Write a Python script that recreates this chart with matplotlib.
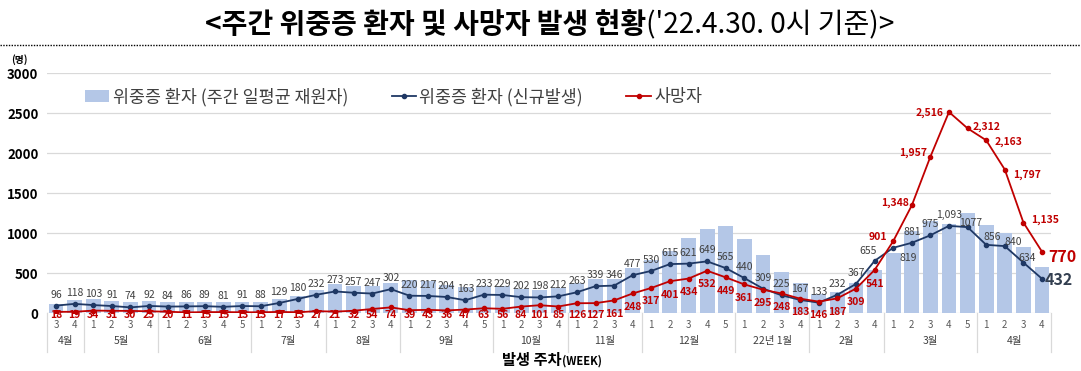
import numpy as np
import matplotlib.pyplot as plt
from matplotlib.lines import Line2D
from matplotlib.patches import Patch
from matplotlib.transforms import blended_transform_factory

plt.rcParams['font.family'] = ['Noto Sans CJK KR', 'DejaVu Sans']

# 주차 (2021.4월 3주 ~ 2022.4월 4주)
months = ['4월', '5월', '6월', '7월', '8월', '9월', '10월', '11월', '12월',
          '22년 1월', '2월', '3월', '4월']
month_counts = [2, 4, 5, 4, 4, 5, 4, 4, 5, 4, 4, 5, 4]
week_nums = [3, 4,
             1, 2, 3, 4,
             1, 2, 3, 4, 5,
             1, 2, 3, 4,
             1, 2, 3, 4,
             1, 2, 3, 4, 5,
             1, 2, 3, 4,
             1, 2, 3, 4,
             1, 2, 3, 4, 5,
             1, 2, 3, 4,
             1, 2, 3, 4,
             1, 2, 3, 4, 5,
             1, 2, 3, 4]

# 위중증 환자 (주간 일평균 재원자) - 그림에서 읽은 값
inpatients = [117, 170, 178, 158, 146, 152, 146, 146, 146, 144, 146,
              146, 183, 217, 292, 367, 340, 340, 375, 417, 408, 350,
              325, 342, 342, 300, 292, 312, 375, 430, 430, 565, 667,
              775, 940, 1054, 1092, 929, 729, 521, 375, 245, 262, 375,
              542, 758, 1030, 1150, 1120, 1250, 1104, 1008, 825, 575]

# 위중증 환자 (신규발생)
severe = [96, 118, 103, 91, 74, 92, 84, 86, 89, 81, 91, 88, 129, 180,
          232, 273, 257, 247, 302, 220, 217, 204, 163, 233, 229, 202,
          198, 212, 263, 339, 346, 477, 530, 615, 621, 649, 565, 440,
          309, 225, 167, 133, 232, 367, 655, 819, 881, 975, 1093, 1077,
          856, 840, 634, 432]

# 사망자
deaths = [18, 19, 34, 31, 30, 25, 20, 11, 15, 15, 13, 13, 17, 13, 27,
          21, 32, 54, 74, 39, 43, 36, 47, 63, 56, 84, 101, 85, 126, 127,
          161, 248, 317, 401, 434, 532, 449, 361, 295, 248, 183, 146, 187,
          309, 541, 901, 1348, 1957, 2516, 2312, 2163, 1797, 1135, 770]

BAR_C = '#B4C7E7'
BLUE_C = '#1F3864'
RED_C = '#C00000'
GRAY_T = '#404040'

W, H = 1081, 371
fig = plt.figure(figsize=(W / 100, H / 100), dpi=100)
fig.patch.set_facecolor('white')

ax_l, ax_r, ax_t, ax_b = 46.7, 1051.3, 73.3, 313.3
ax = fig.add_axes([ax_l / W, (H - ax_b) / H, (ax_r - ax_l) / W, (ax_b - ax_t) / H])

x = np.arange(len(severe))
ax.bar(x, inpatients, width=0.8, color=BAR_C, zorder=2)
ax.plot(x, severe, color=BLUE_C, lw=1.3, marker='o', ms=3, zorder=3)
ax.plot(x, deaths, color=RED_C, lw=1.3, marker='o', ms=3, zorder=4)

ax.set_xlim(-0.5, len(severe) - 0.5)
ax.set_ylim(0, 3000)
ax.set_yticks(range(0, 3001, 500))
ax.yaxis.grid(True, color='#D9D9D9', lw=0.9, zorder=0)
ax.set_axisbelow(True)
for s in ax.spines.values():
    s.set_visible(False)
ax.set_xticks([])
ax.tick_params(axis='y', length=0, pad=6)
for lab in ax.get_yticklabels():
    lab.set_fontweight('bold')
    lab.set_fontsize(9.5)

fig.text(19 / W, 1 - 60 / H, '(명)', fontsize=7, fontweight='bold', ha='center', va='center')

# 데이터 레이블
blue_off = {44: (-7, 10), 45: (15, -10), 49: (3, 4), 50: (6, 8), 51: (8, 4), 52: (4, 5)}
for i, v in enumerate(severe):
    lab = f'{v:,}' if v == 1093 else str(v)
    if i == len(severe) - 1:
        ax.annotate(lab, (i, v), xytext=(17, -1), textcoords='offset pixels',
                    ha='center', va='center', fontsize=11.5, fontweight='bold',
                    color='#333F50', annotation_clip=False)
        continue
    dx, dy = blue_off.get(i, (0, 11))
    ax.annotate(lab, (i, v), xytext=(dx, dy), textcoords='offset pixels',
                ha='center', va='center', fontsize=7.5, color=GRAY_T,
                annotation_clip=False, zorder=6)

red_off = {45: (-15, 4), 46: (-17, 3), 47: (-17, 4), 48: (-19, -1),
           49: (19, 1), 50: (22, -2), 51: (22, -5), 52: (22, 3)}
px_per_unit = (ax_b - ax_t) / 3000
for i, v in enumerate(deaths):
    lab = f'{v:,}'
    if i == len(deaths) - 1:
        ax.annotate(lab, (i, v), xytext=(20, -5), textcoords='offset pixels',
                    ha='center', va='center', fontsize=11.5, fontweight='bold',
                    color=RED_C, annotation_clip=False)
        continue
    if i in red_off:
        dx, dy = red_off[i]
    else:
        dx, dy = 0, max(-13.5, (-22 - v) * px_per_unit)
    ax.annotate(lab, (i, v), xytext=(dx, dy), textcoords='offset pixels',
                ha='center', va='center', fontsize=7.5, fontweight='bold',
                color=RED_C, annotation_clip=False, zorder=6)

# x축: 주차, 월
trans = blended_transform_factory(ax.transData, ax.transAxes)
for i, w in enumerate(week_nums):
    ax.text(i, -0.047, str(w), transform=trans, ha='center', va='center',
            fontsize=7, color='#595959')
edges = np.concatenate([[0], np.cumsum(month_counts)])
for k, m in enumerate(months):
    ax.text((edges[k] + edges[k + 1] - 1) / 2, -0.115, m, transform=trans,
            ha='center', va='center', fontsize=7.5, color=GRAY_T)
for e in edges:
    ax.plot([e - 0.5, e - 0.5], [0, -0.16], transform=trans, color='#D9D9D9',
            lw=0.9, clip_on=False)

# 범례
handles = [Patch(facecolor=BAR_C, edgecolor='none'),
           Line2D([], [], color=BLUE_C, lw=1.3, marker='o', ms=3),
           Line2D([], [], color=RED_C, lw=1.3, marker='o', ms=3)]
labels = ['위중증 환자 (주간 일평균 재원자)', '위중증 환자 (신규발생)', '사망자']
ax.legend(handles, labels, loc='center left',
          bbox_to_anchor=((85 - ax_l) / (ax_r - ax_l), (ax_b - 97) / (ax_b - ax_t)),
          ncol=3, frameon=False, fontsize=12.5, handlelength=1.4, handletextpad=0.2,
          columnspacing=2.5, borderaxespad=0, borderpad=0, labelcolor=GRAY_T)

# 제목 (굵은 부분 + 보통 부분)
renderer = fig.canvas.get_renderer()
fs = 19
t1 = fig.text(0, 1 - 33 / H, '<주간 위중증 환자 및 사망자 발생 현황', fontsize=fs,
              fontweight='bold', va='baseline')
t2 = fig.text(0, 1 - 33 / H, "('22.4.30. 0시 기준)>", fontsize=fs, va='baseline')
wsum = t1.get_window_extent(renderer).width + t2.get_window_extent(renderer).width
fs = fs * 690 / wsum
t1.set_fontsize(fs)
t2.set_fontsize(fs)
w1 = t1.get_window_extent(renderer).width
w2 = t2.get_window_extent(renderer).width
start = 550 - (w1 + w2) / 2
t1.set_x(start / W)
t2.set_x((start + w1) / W)

fig.add_artist(Line2D([0, 1], [1 - 44.5 / H, 1 - 44.5 / H], transform=fig.transFigure,
                      color='black', lw=1.0, linestyle=(0, (1, 1))))

# x축 제목
x1 = fig.text(0, 1 - 365 / H, '발생 주차', fontsize=11, fontweight='bold', va='baseline')
x2 = fig.text(0, 1 - 365 / H, '(WEEK)', fontsize=8, fontweight='bold', va='baseline')
a1 = x1.get_window_extent(renderer).width
a2 = x2.get_window_extent(renderer).width
xs = 552 - (a1 + a2) / 2
x1.set_x(xs / W)
x2.set_x((xs + a1) / W)

fig.savefig('out.png', dpi=100)
